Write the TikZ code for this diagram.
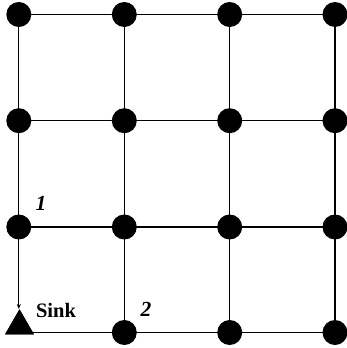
\documentclass[tikz,border=0pt]{standalone}
\usepackage{fontspec}
\setmainfont{Liberation Serif}
\usetikzlibrary{arrows.meta,shapes.geometric}
\begin{document}
\begin{tikzpicture}[x=1pt,y=-1pt,
  sensor/.style={circle,fill=black,inner sep=0pt,minimum size=25pt},
  sinknode/.style={isosceles triangle,isosceles triangle apex angle=60,shape border rotate=90,fill=black,inner sep=0pt,minimum height=25pt},
  link/.style={line width=1.3pt},
  lbl/.style={font=\fontsize{20.5}{24}\selectfont\bfseries},
  numlbl/.style={font=\fontsize{21.5}{24}\selectfont\bfseries\itshape}]
\useasboundingbox (0,0) rectangle (347,348);
% grid positions
\foreach \i/\x in {0/18.8,1/124.3,2/229.7,3/335}{
  \foreach \j/\y in {0/14.5,1/120.7,2/227,3/332.5}{
    \coordinate (p\i\j) at (\x,\y);
  }
}
% sink in the lower left corner
\node[sinknode] (s) at (19.5,326) {};
% horizontal links
\foreach \j in {0,1,2,3}{
  \draw[link] (p0\j) -- (p1\j) -- (p2\j) -- (p3\j);
}
% vertical links
\foreach \i in {1,2,3}{
  \draw[link] (p\i0) -- (p\i1) -- (p\i2) -- (p\i3);
}
\draw[link] (p00) -- (p01) -- (p02);
\draw[link,-{Stealth[length=5pt,width=4pt]}] (p02) -- (p02 |- s.apex);
% sensor discs
\foreach \i in {0,1,2,3}{
  \foreach \j in {0,1,2,3}{
    \ifnum\i\j=03\else
      \node[sensor] (n\i\j) at (p\i\j) {};
    \fi
  }
}
\node[sinknode] (s2) at (19.5,326) {};
% labels
\node[numlbl] (l1) at (41,203.5) {1};
\node[numlbl] (l2) at (146,309) {2};
\node[lbl] (lsink) at (56,310) {Sink};
\end{tikzpicture}
\end{document}
